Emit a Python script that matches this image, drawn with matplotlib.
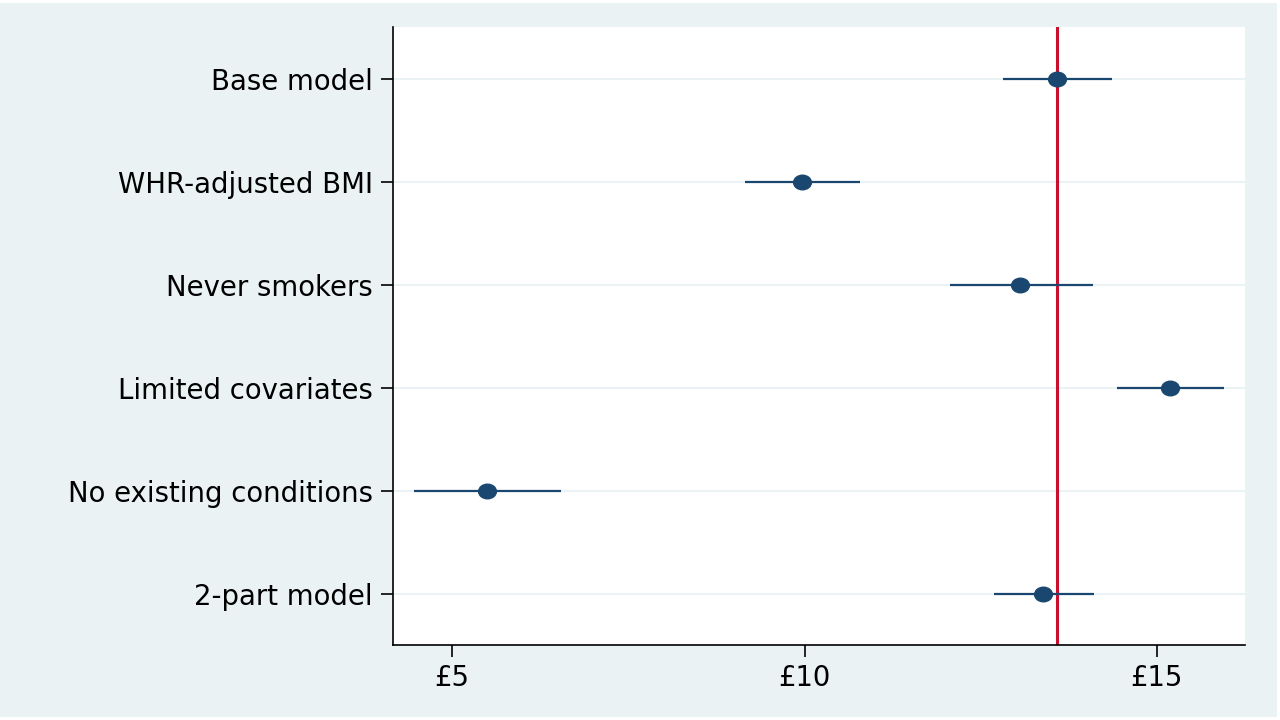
import matplotlib.pyplot as plt
from matplotlib.patches import Rectangle
from matplotlib.markers import MarkerStyle
from matplotlib.transforms import Affine2D

plt.rcParams['font.family'] = ['DejaVu Sans']

# Estimates (GBP)
models = ['Base model', 'WHR-adjusted BMI', 'Never smokers',
          'Limited covariates', 'No existing conditions', '2-part model']
estimate = [13.58, 9.96, 13.06, 15.18, 5.50, 13.38]
ci_low = [12.82, 9.16, 12.06, 14.43, 4.46, 12.69]
ci_high = [14.36, 10.79, 14.09, 15.95, 6.55, 14.11]
reference_value = 13.58
x_ticks = [5, 10, 15]
x_tick_labels = ['£5', '£10', '£15']

bg = '#eaf2f3'
navy = '#1a476f'
red = '#c8102e'

fig = plt.figure(figsize=(12.8, 7.2), dpi=100)
fig.patch.set_facecolor('white')
fig.patches.append(Rectangle((0, 3 / 720), 1277 / 1280, 714 / 720,
                             transform=fig.transFigure, facecolor=bg,
                             edgecolor='none', zorder=-10))

ax = fig.add_axes([393 / 1280, 1 - 645 / 720, (1245 - 393) / 1280, (645 - 27) / 720])
ax.set_facecolor('white')

ypos = list(range(1, len(models) + 1))

for y in ypos:
    ax.axhline(y, color=bg, lw=1.5, zorder=1)

ax.axvline(reference_value, color=red, lw=2.2, zorder=2)

# slightly wide dot, like the stretched original
dot = MarkerStyle('o', transform=Affine2D().scale(1.22, 1.0))
ax.hlines(ypos, ci_low, ci_high, color=navy, lw=1.6, zorder=3)
ax.plot(estimate, ypos, linestyle='none', marker=dot, color=navy, ms=10.5, zorder=4)

ax.set_xlim(4.16, 16.25)
ax.set_ylim(6.5, 0.49)
ax.set_yticks(ypos)
ax.set_yticklabels(models, va='center_baseline')
ax.set_xticks(x_ticks)
ax.set_xticklabels(x_tick_labels)

ax.tick_params(axis='both', labelsize=19.8, length=8.5, width=1.2, color='black')
ax.tick_params(axis='y', pad=6)
ax.tick_params(axis='x', pad=5)

for side in ['top', 'right']:
    ax.spines[side].set_visible(False)
for side in ['left', 'bottom']:
    ax.spines[side].set_linewidth(1.2)

fig.savefig('out.png', dpi=100, facecolor=fig.get_facecolor())
